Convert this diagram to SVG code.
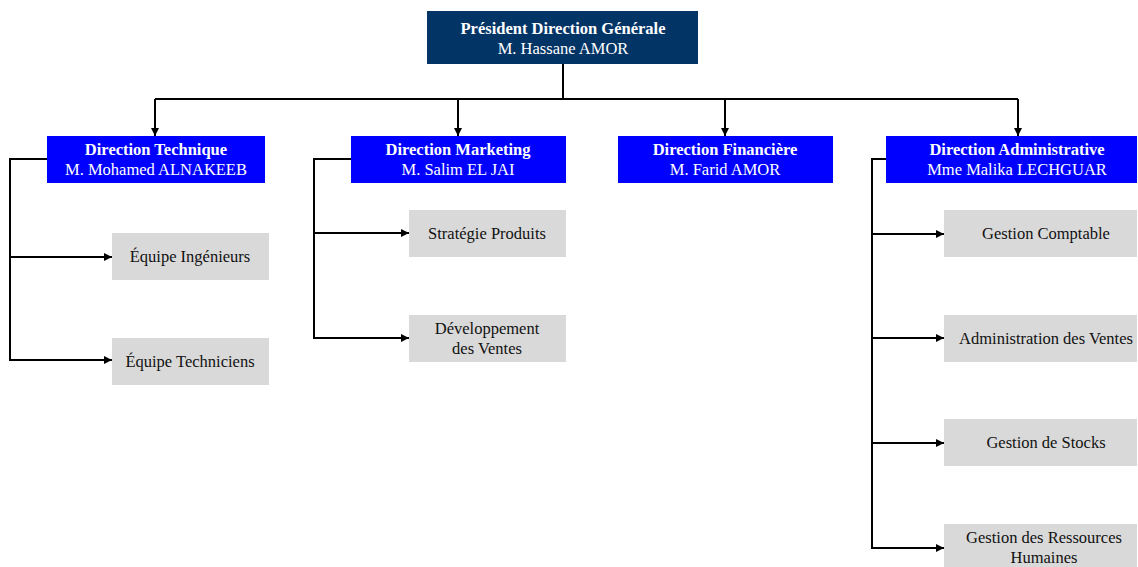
<svg xmlns="http://www.w3.org/2000/svg" width="1138" height="567" viewBox="0 0 1138 567">
<style>
.top{fill:#033466}
.dir{fill:#0000ff}
.sub{fill:#d9d9d9}
text{font-family:"Liberation Serif","Times New Roman",serif;font-size:16.5px;text-anchor:middle}
.w{fill:#ffffff}
.b{font-weight:bold}
.k{fill:#111111}
.ln{fill:none;stroke:#000;stroke-width:2}
</style>
<defs>
<marker id="ah" viewBox="0 0 10 10" refX="10" refY="5" markerWidth="8" markerHeight="8" markerUnits="userSpaceOnUse" orient="auto">
<path d="M0,0 L10,5 L0,10 z" fill="#000"/>
</marker>
</defs>
<rect width="1138" height="567" fill="#ffffff"/>
<g id="connectors">
<path class="ln" d="M563,64 V99"/>
<path class="ln" d="M155,99 H1018"/>
<path class="ln" d="M155,99 V136" marker-end="url(#ah)"/>
<path class="ln" d="M458,99 V136" marker-end="url(#ah)"/>
<path class="ln" d="M725,99 V136" marker-end="url(#ah)"/>
<path class="ln" d="M1018,99 V136" marker-end="url(#ah)"/>
<path class="ln" d="M47,159 H10 V361"/>
<path class="ln" d="M10,257 H112" marker-end="url(#ah)"/>
<path class="ln" d="M10,360 H112" marker-end="url(#ah)"/>
<path class="ln" d="M351,159 H314 V339"/>
<path class="ln" d="M314,233 H409" marker-end="url(#ah)"/>
<path class="ln" d="M314,338 H409" marker-end="url(#ah)"/>
<path class="ln" d="M886,159 H872 V549"/>
<path class="ln" d="M872,234 H944" marker-end="url(#ah)"/>
<path class="ln" d="M872,338 H944" marker-end="url(#ah)"/>
<path class="ln" d="M872,443 H944" marker-end="url(#ah)"/>
<path class="ln" d="M872,548 H944" marker-end="url(#ah)"/>
</g>
<g id="president">
<rect class="top" x="427" y="11" width="271" height="53"/>
<text class="w b" x="563" y="34">Président Direction Générale</text>
<text class="w" x="563" y="54">M. Hassane AMOR</text>
</g>
<g id="dir-technique">
<rect class="dir" x="47" y="136" width="218" height="47"/>
<text class="w b" x="156" y="155">Direction Technique</text>
<text class="w" x="156" y="175">M. Mohamed ALNAKEEB</text>
</g>
<g id="dir-marketing">
<rect class="dir" x="351" y="136" width="215" height="47"/>
<text class="w b" x="458" y="155">Direction Marketing</text>
<text class="w" x="458" y="175">M. Salim EL JAI</text>
</g>
<g id="dir-financiere">
<rect class="dir" x="618" y="136" width="215" height="47"/>
<text class="w b" x="725" y="155">Direction Financière</text>
<text class="w" x="725" y="175">M. Farid AMOR</text>
</g>
<g id="dir-administrative">
<rect class="dir" x="886" y="136" width="251" height="47"/>
<text class="w b" x="1017" y="155">Direction Administrative</text>
<text class="w" x="1017" y="175">Mme Malika LECHGUAR</text>
</g>
<g id="equipe-ingenieurs">
<rect class="sub" x="112" y="233" width="157" height="47"/>
<text class="k" x="190" y="262">Équipe Ingénieurs</text>
</g>
<g id="equipe-techniciens">
<rect class="sub" x="112" y="338" width="157" height="47"/>
<text class="k" x="190" y="367">Équipe Techniciens</text>
</g>
<g id="strategie-produits">
<rect class="sub" x="409" y="210" width="157" height="47"/>
<text class="k" x="487" y="239">Stratégie Produits</text>
</g>
<g id="developpement-ventes">
<rect class="sub" x="409" y="315" width="157" height="47"/>
<text class="k" x="487" y="334">Développement</text>
<text class="k" x="487" y="354">des Ventes</text>
</g>
<g id="gestion-comptable">
<rect class="sub" x="944" y="210" width="193" height="47"/>
<text class="k" x="1046" y="239">Gestion Comptable</text>
</g>
<g id="administration-ventes">
<rect class="sub" x="944" y="315" width="193" height="47"/>
<text class="k" x="1046" y="344">Administration des Ventes</text>
</g>
<g id="gestion-stocks">
<rect class="sub" x="944" y="419" width="193" height="47"/>
<text class="k" x="1046" y="448">Gestion de Stocks</text>
</g>
<g id="gestion-rh">
<rect class="sub" x="944" y="524" width="193" height="47"/>
<text class="k" x="1044" y="543">Gestion des Ressources</text>
<text class="k" x="1044" y="563">Humaines</text>
</g>
</svg>
